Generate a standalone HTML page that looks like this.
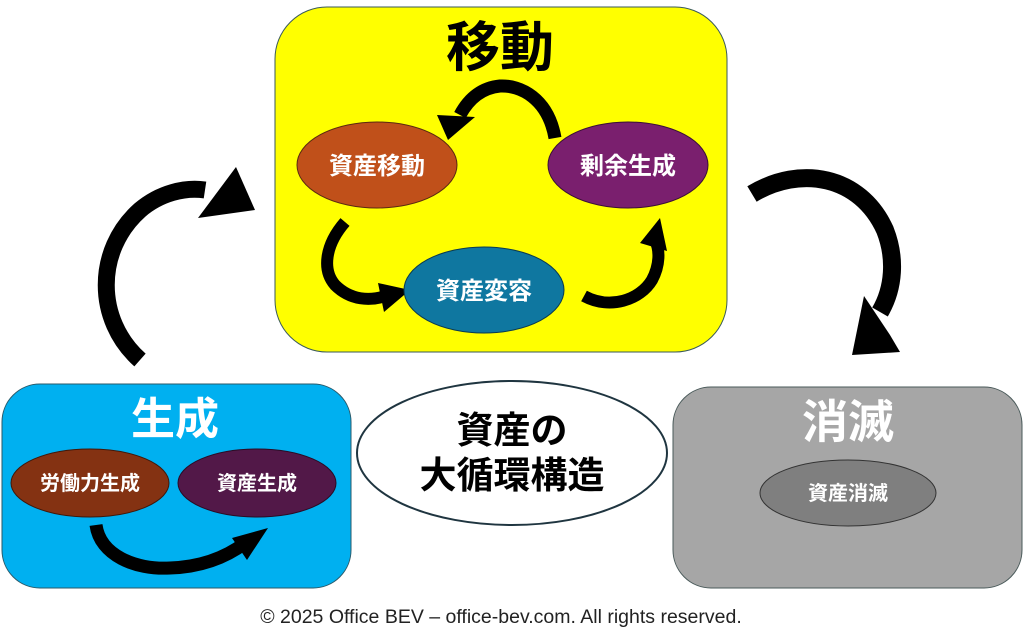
<!DOCTYPE html>
<html><head><meta charset="utf-8"><style>
html,body{margin:0;padding:0;background:#fff;width:1024px;height:640px;overflow:hidden}
text{font-family:"Liberation Sans","Noto Sans CJK JP",sans-serif;font-weight:bold}
</style></head><body>
<svg width="1024" height="640" viewBox="0 0 1024 640" xmlns="http://www.w3.org/2000/svg">
<rect x="275" y="7" width="452" height="345" rx="52" fill="#ffff00" stroke="#3a5a5a" stroke-width="1"/>
<text x="500" y="66" font-size="54" text-anchor="middle" fill="#000">移動</text>
<g fill="none" stroke="#000" stroke-linecap="butt">
<path d="M555 138 C548 98 520 85 500 86 C480 88 468 100 460 115" stroke-width="13"/>
<path d="M345 222 C325 245 322 270 335 285 C350 300 370 302 388 295" stroke-width="12"/>
<path d="M584 296 C610 310 640 300 652 280 C660 265 660 250 655 240" stroke-width="12"/>
<path d="M140 360 C95 320 95 250 140 210 C160 193 185 187 205 190" stroke-width="17"/>
<path d="M752 194 C800 165 860 175 885 230 C896 258 894 288 880 312" stroke-width="18"/>
</g>
<g fill="#000">
<polygon points="475,117 448,140 437,115"/>
<polygon points="378,283 410,290 384,312"/>
<polygon points="640,243 660,218 667,251"/>
<polygon points="198,218 255,210 236,167"/>
<polygon points="864,296 852,355 900,352 890,335"/>
</g>
<ellipse cx="377" cy="165" rx="80" ry="43" fill="#c0501a" stroke="#5a2a10"/>
<text x="377" y="174" font-size="24" text-anchor="middle" fill="#fff">資産移動</text>
<ellipse cx="628" cy="165" rx="80" ry="43" fill="#7a1f6e" stroke="#3a1035"/>
<text x="628" y="174" font-size="24" text-anchor="middle" fill="#fff">剰余生成</text>
<ellipse cx="484" cy="290" rx="80" ry="43" fill="#0f77a0" stroke="#0a3a50"/>
<text x="484" y="299" font-size="24" text-anchor="middle" fill="#fff">資産変容</text>
<rect x="2" y="384" width="349" height="204" rx="38" fill="#00b0f0" stroke="#2a5a6a"/>
<text x="175" y="434" font-size="44" text-anchor="middle" fill="#fff">生成</text>
<ellipse cx="90" cy="483" rx="79" ry="34" fill="#843212" stroke="#40180a"/>
<text x="90" y="490" font-size="20" text-anchor="middle" fill="#fff">労働力生成</text>
<ellipse cx="257" cy="483" rx="79" ry="34" fill="#521848" stroke="#2a0c25"/>
<text x="257" y="490" font-size="20" text-anchor="middle" fill="#fff">資産生成</text>
<path d="M96 525 C100 555 135 570 170 568 C200 567 225 558 245 543" fill="none" stroke="#000" stroke-width="13"/>
<polygon points="232,538 268,528 247,560" fill="#000"/>
<rect x="673" y="387" width="349" height="201" rx="38" fill="#a6a6a6" stroke="#4a5a5a"/>
<text x="848" y="438" font-size="46" text-anchor="middle" fill="#fff">消滅</text>
<ellipse cx="848" cy="493" rx="88" ry="33" fill="#7f7f7f" stroke="#333"/>
<text x="848" y="500" font-size="20" text-anchor="middle" fill="#fff">資産消滅</text>
<ellipse cx="512" cy="453" rx="155" ry="72" fill="#fff" stroke="#1f3540" stroke-width="2"/>
<text x="512" y="443" font-size="37" text-anchor="middle" fill="#000">資産の</text>
<text x="512" y="488" font-size="37" text-anchor="middle" fill="#000">大循環構造</text>
<text x="501" y="623" font-size="19.5" text-anchor="middle" fill="#222" style="font-weight:normal">© 2025 Office BEV – office-bev.com. All rights reserved.</text>
</svg>
</body></html>
